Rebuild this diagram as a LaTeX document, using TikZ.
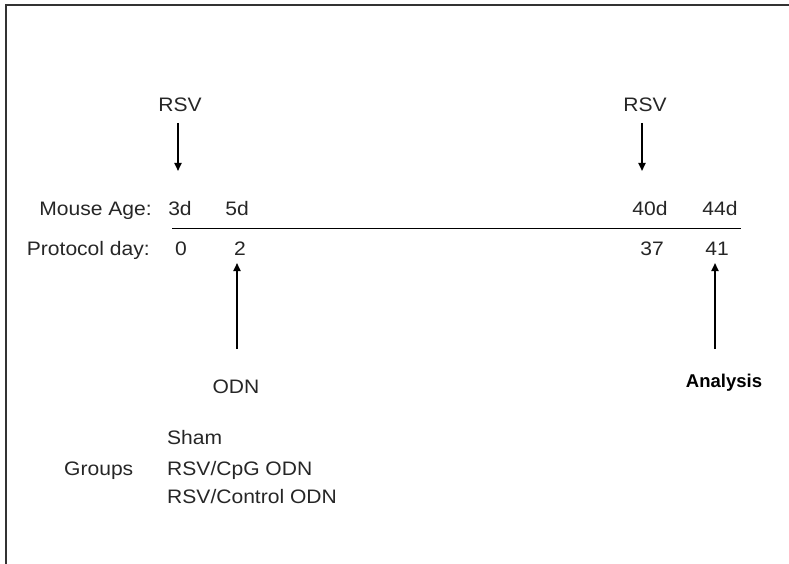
\documentclass[tikz,border=0pt]{standalone}
\usepackage{fontspec}
\setmainfont{Liberation Sans}
\newfontfamily\widesans[FakeStretch=1.08]{Liberation Sans}
\usetikzlibrary{arrows.meta}
\begin{document}
\begin{tikzpicture}[x=1pt,y=-1pt,
  lbl/.style={inner sep=0pt,anchor=base,font=\widesans\fontsize{19.5}{23}\selectfont,text=black!85},
  arr/.style={line width=1.8pt,-{Triangle[length=8pt,width=7pt]}},
  frame/.style={line width=1.2pt,draw=black!80}]
\useasboundingbox (0,0) rectangle (789,564);
% frame (top and left edges)
\draw[frame] (6,564) -- (6,5) -- (789,5);
% RSV arrows
\node[lbl] (rsv1) at (180,112) {RSV};
\node[lbl] (rsv2) at (645,112) {RSV};
\coordinate (r1s) at (178,123); \coordinate (r1e) at (178,171);
\coordinate (r2s) at (642,123); \coordinate (r2e) at (642,171);
\draw[arr] (r1s) -- (r1e);
\draw[arr] (r2s) -- (r2e);
% Mouse age row
\node[lbl,anchor=base east] (mage) at (152,215) {Mouse Age:};
\node[lbl] (a3) at (180,215) {3d};
\node[lbl] (a5) at (237,215) {5d};
\node[lbl] (a40) at (650,215) {40d};
\node[lbl] (a44) at (720,215) {44d};
% timeline
\coordinate (ls) at (172,228.5); \coordinate (le) at (741,228.5);
\draw[line width=1.2pt] (ls) -- (le);
% Protocol day row
\node[lbl,anchor=base east] (pday) at (150,255) {Protocol day:};
\node[lbl] (d0) at (181,255) {0};
\node[lbl] (d2) at (240,255) {2};
\node[lbl] (d37) at (652,255) {37};
\node[lbl] (d41) at (717,255) {41};
% up arrows
\coordinate (o1s) at (237,349); \coordinate (o1e) at (237,263);
\coordinate (o2s) at (715,349); \coordinate (o2e) at (715,263);
\draw[arr] (o1s) -- (o1e);
\draw[arr] (o2s) -- (o2e);
\node[lbl] (odn) at (236,393) {ODN};
\node[inner sep=0pt,anchor=base,font=\fontsize{18.5}{22}\selectfont\bfseries] (ana) at (724,387) {Analysis};
% groups
\node[lbl,anchor=base west] (g1) at (167,444) {Sham};
\node[lbl,anchor=base west] (g2) at (167,475) {RSV/CpG ODN};
\node[lbl,anchor=base west] (g3) at (167,503) {RSV/Control ODN};
\node[lbl,anchor=base west] (grp) at (64,475) {Groups};
\end{tikzpicture}
\end{document}
